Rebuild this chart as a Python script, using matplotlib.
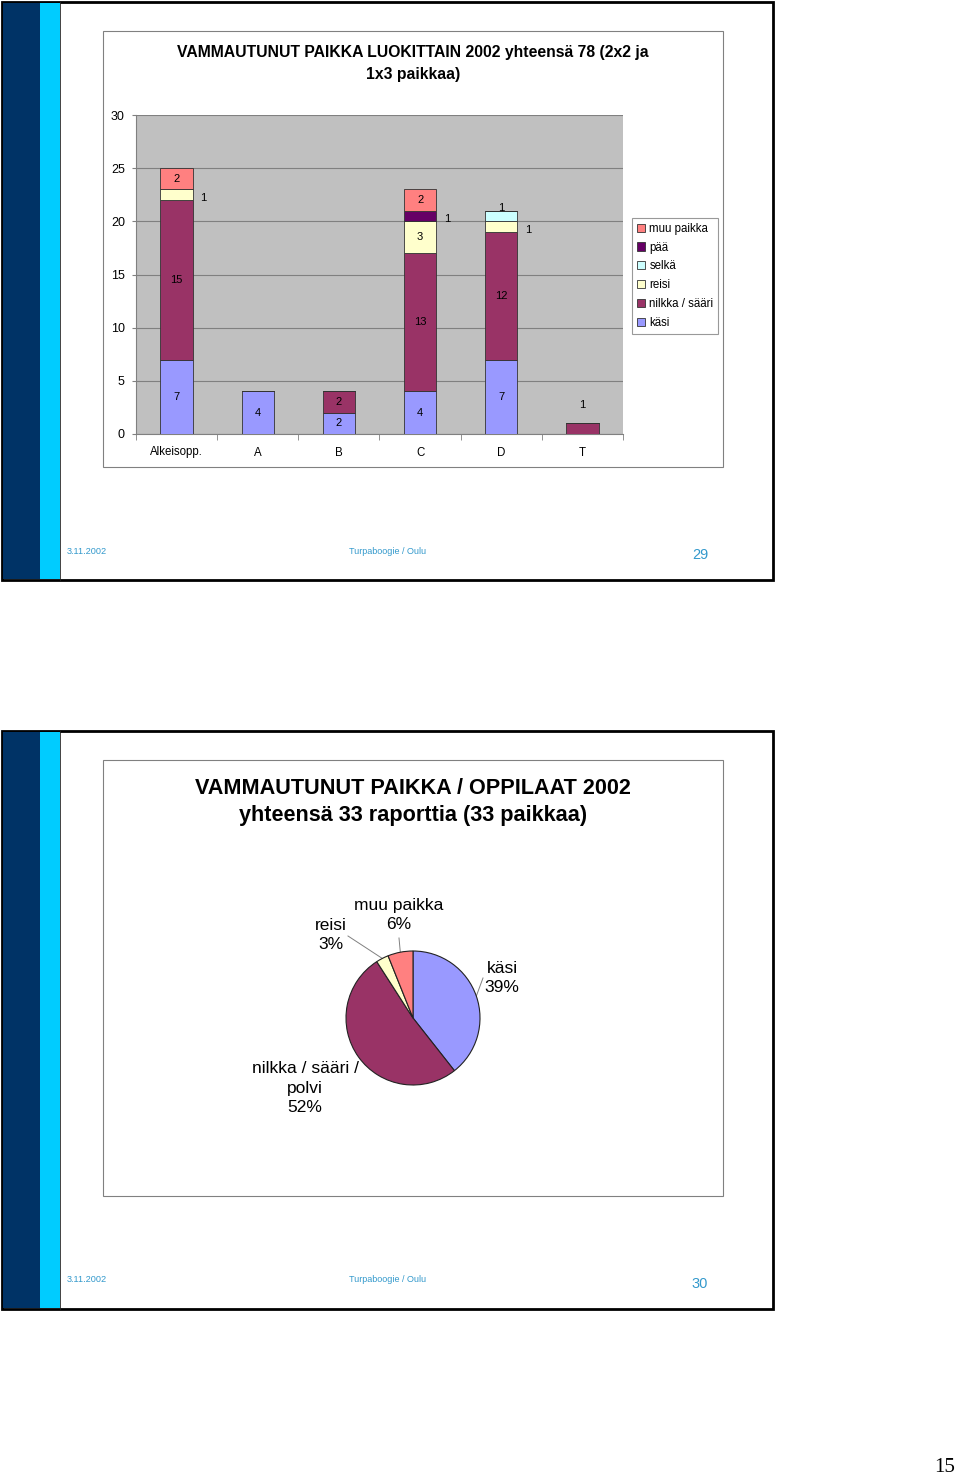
import numpy as np
import matplotlib
matplotlib.use("Agg")
import matplotlib.pyplot as plt
from matplotlib.patches import Rectangle, Patch

plt.rcParams['font.family'] = ['Liberation Sans', 'DejaVu Sans']

# bar chart data (slide 29)
categories = ["Alkeisopp.", "A", "B", "C", "D", "T"]
series_names = ["käsi", "nilkka / sääri", "reisi", "selkä", "pää", "muu paikka"]
kasi = [7, 4, 2, 4, 7, 0]
nilkka = [15, 0, 2, 13, 12, 1]
reisi = [1, 0, 0, 3, 1, 0]
selka = [0, 0, 0, 0, 1, 0]
paa = [0, 0, 0, 1, 0, 0]
muu = [2, 0, 0, 2, 0, 0]
bar_colors = ["#9999FF", "#993366", "#FFFFCC", "#CCFFFF", "#660066", "#FF8080"]

# pie data (slide 30)
pie_labels = ["käsi", "nilkka / sääri /\npolvi", "reisi", "muu paikka"]
pie_values = [13, 17, 1, 2]
pie_pct = ["39%", "52%", "3%", "6%"]
pie_colors = ["#9999FF", "#993366", "#FFFFCC", "#FF8080"]

W, H = 960, 1480
fig = plt.figure(figsize=(9.6, 14.8), dpi=100)
bg = fig.add_axes([0, 0, 1, 1])
bg.set_xlim(0, W)
bg.set_ylim(H, 0)
bg.axis('off')


def px_axes(x0, y0, x1, y1):
    return fig.add_axes([x0 / W, 1 - y1 / H, (x1 - x0) / W, (y1 - y0) / H])


footer_col = "#3399CC"
for top, num in [(2, "29"), (731, "30")]:
    bot = top + 578
    bg.add_patch(Rectangle((2, top), 771, bot - top, fc="white", ec="black", lw=2, zorder=1))
    bg.add_patch(Rectangle((3, top + 1), 37, bot - top - 2, fc="#003366", ec="none", zorder=2))
    bg.add_patch(Rectangle((40, top + 1), 20, bot - top - 2, fc="#00CCFF", ec="none", zorder=2))
    bg.plot([60, 60], [top, bot], color="#222222", lw=0.6, zorder=3)
    bg.text(67, top + 549, "3.11.2002", fontsize=6.6, color=footer_col, va="center")
    bg.text(388, top + 549, "Turpaboogie / Oulu", fontsize=6.5, color=footer_col,
            va="center", ha="center")
    bg.text(700, top + 553, num, fontsize=10.5, color=footer_col, va="center", ha="center")

# chart frames
bg.add_patch(Rectangle((103, 31), 620, 436, fc="white", ec="#808080", lw=0.8, zorder=4))
bg.add_patch(Rectangle((103, 760), 620, 436, fc="white", ec="#808080", lw=0.8, zorder=4))

bg.text(413, 53, "VAMMAUTUNUT PAIKKA LUOKITTAIN 2002 yhteensä 78 (2x2 ja",
        fontsize=11.3, fontweight="bold", ha="center", va="center", zorder=5)
bg.text(413, 74, "1x3 paikkaa)", fontsize=11.3, fontweight="bold",
        ha="center", va="center", zorder=5)
bg.text(413, 788, "VAMMAUTUNUT PAIKKA / OPPILAAT 2002", fontsize=15.6,
        fontweight="bold", ha="center", va="center", zorder=5)
bg.text(413, 816, "yhteensä 33 raporttia (33 paikkaa)", fontsize=15.6,
        fontweight="bold", ha="center", va="center", zorder=5)

bg.text(945, 1468, "15", fontsize=15, family="Liberation Serif", ha="center", va="center")

# ---- stacked bar chart ----
ax = px_axes(136, 115, 623, 434)
ax.set_facecolor("#C0C0C0")
x = np.arange(len(categories))
all_series = [kasi, nilkka, reisi, selka, paa, muu]
bottom = np.zeros(len(categories))
handles = []
for si, (name, vals, col) in enumerate(zip(series_names, all_series, bar_colors)):
    vals = np.array(vals, dtype=float)
    ax.bar(x, vals, 0.4, bottom=bottom, color=col, edgecolor="#333333", lw=0.6, zorder=3)
    for ci, v in enumerate(vals):
        if v <= 0:
            continue
        cx, cy = x[ci], bottom[ci] + v / 2
        if v == 1:
            # small segments get their label beside the bar
            if name == "selkä":
                cy = cy + 0.8
            elif categories[ci] == "T":
                cy = cy + 2.2
            else:
                cx, cy = cx + 0.33, cy - 0.3
        ax.text(cx, cy, "%d" % v, fontsize=8, ha="center", va="center", zorder=4)
    handles.append(Patch(fc=col, ec="#333333", lw=0.6, label=name))
    bottom += vals

ax.set_xlim(-0.5, 5.5)
ax.set_ylim(0, 30)
ax.set_yticks(range(0, 31, 5))
ax.yaxis.grid(True, color="#808080", lw=0.8, zorder=0)
ax.set_axisbelow(True)
ax.set_xticks(x)
ax.set_xticklabels(categories)
ax.set_xticks(np.arange(-0.5, 6, 1), minor=True)
ax.tick_params(axis="x", which="major", length=0, labelsize=8.3, pad=9)
ax.tick_params(axis="x", which="minor", length=4, color="#808080")
ax.tick_params(axis="y", length=3, color="#808080", labelsize=9, pad=5)
for s in ["top", "right"]:
    ax.spines[s].set_visible(False)
for s in ["left", "bottom"]:
    ax.spines[s].set_color("#808080")

leg = fig.legend(handles=handles[::-1], loc="upper left",
                 bbox_to_anchor=(632 / W, 1 - 218 / H), fontsize=8.3,
                 frameon=True, fancybox=False, edgecolor="#808080",
                 handlelength=0.7, handleheight=0.7, handletextpad=0.4,
                 labelspacing=0.6, borderpad=0.4, borderaxespad=0)
leg.get_frame().set_linewidth(0.8)

# ---- pie chart ----
r = 67
cxp, cyp = 413, 1018
pax = px_axes(cxp - r, cyp - r, cxp + r, cyp + r)
wedges, _ = pax.pie(pie_values, colors=pie_colors, startangle=90, counterclock=False,
                    wedgeprops=dict(edgecolor="#222222", lw=0.8))
pax.set_xlim(-1, 1)
pax.set_ylim(-1, 1)
pax.set_aspect("auto")
pax.axis("off")

label_pos = {"käsi": (502, 978), "reisi": (331, 935), "muu paikka": (399, 915),
             "nilkka / sääri /\npolvi": (305, 1088)}
line_start = {"käsi": (483, 978), "reisi": (348, 936), "muu paikka": (399, 938)}
for w, lab, pct in zip(wedges, pie_labels, pie_pct):
    lx, ly = label_pos[lab]
    bg.text(lx, ly, lab + "\n" + pct, fontsize=12.5, ha="center", va="center",
            linespacing=1.35, zorder=6)
    if lab in line_start:
        ang = np.deg2rad((w.theta1 + w.theta2) / 2)
        ex, ey = cxp + r * np.cos(ang), cyp - r * np.sin(ang)
        sx, sy = line_start[lab]
        bg.plot([sx, ex], [sy, ey], color="#808080", lw=0.7, zorder=6)

fig.savefig("out.png", dpi=100)
